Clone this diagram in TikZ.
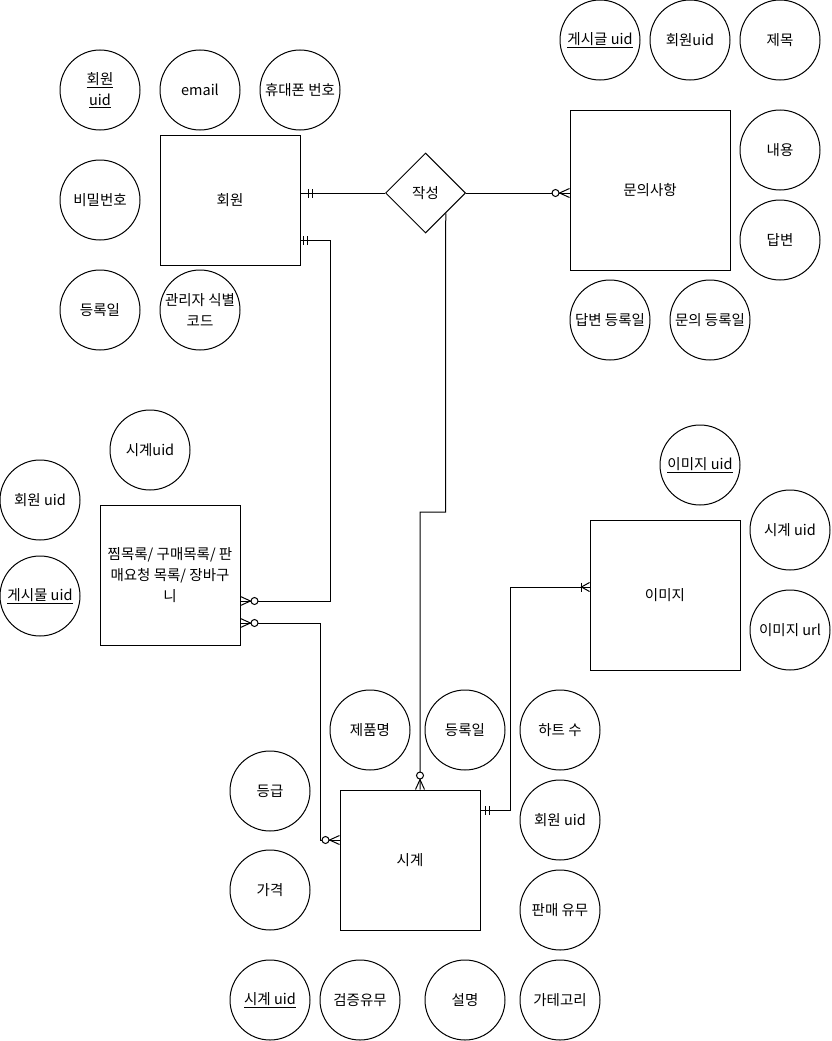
\documentclass[tikz,border=0pt]{standalone}
\usepackage{fontspec}
\setmainfont{Noto Sans CJK KR}
\usetikzlibrary{shapes.geometric}
\tikzset{
  every node/.style={font=\fontsize{14.5}{21}\selectfont},
  attr/.style={circle, draw, line width=1pt, minimum size=80pt, inner sep=-8pt, align=center},
  entity/.style={rectangle, draw, line width=1pt, inner sep=0pt, align=center},
  relbox/.style={diamond, draw, line width=1pt, minimum width=80pt, minimum height=80pt, inner sep=0pt, aspect=1},
  conn/.style={line width=1pt},
  pics/zmany/.style={code={
    \draw[line width=1pt] (0,4.5) -- (10,0) -- (0,-4.5);
    \draw[line width=1pt, fill=white] (14,0) circle[radius=3.5];
  }},
  pics/omany/.style={code={
    \draw[line width=1pt] (0,4.5) -- (8,0) -- (0,-4.5);
    \draw[line width=1pt] (8,4.5) -- (8,-4.5);
  }},
  pics/mone/.style={code={
    \draw[line width=1pt] (5,4.5) -- (5,-4.5) (9,4.5) -- (9,-4.5);
  }},
}
\begin{document}
\begin{tikzpicture}[x=1pt,y=-1pt]
\useasboundingbox (0,0) rectangle (831,1041);
% entities
\node[entity, minimum width=140pt, minimum height=130pt] (m) at (230,200) {회원};
\node[entity, minimum width=160pt, minimum height=160pt] (q) at (650,190) {문의사항};
\node[entity, minimum width=140pt, minimum height=140pt] (w) at (170,575) {찜목록/ 구매목록/ 판\\매요청 목록/ 장바구\\니};
\node[entity, minimum width=140pt, minimum height=140pt] (s) at (410,860) {시계};
\node[entity, minimum width=150pt, minimum height=150pt] (i) at (665,595) {이미지};
\node[relbox] (rel) at (425.5,193) {작성};
% attributes of 회원
\node[attr] (a1) at (100,90) {\underline{회원}\\\underline{uid}};
\node[attr] (a2) at (200,90) {email};
\node[attr] (a3) at (300,90) {휴대폰 번호};
\node[attr] (a4) at (100,200) {비밀번호};
\node[attr] (a5) at (100,310) {등록일};
\node[attr] (a6) at (200,310) {관리자 식별\\코드};
% attributes of 문의사항
\node[attr] (b1) at (600,40) {\underline{게시글 uid}};
\node[attr] (b2) at (690,40) {회원uid};
\node[attr] (b3) at (780,40) {제목};
\node[attr] (b4) at (780,150) {내용};
\node[attr] (b5) at (780,240) {답변};
\node[attr] (b6) at (610,320) {답변 등록일};
\node[attr] (b7) at (710,320) {문의 등록일};
% attributes of 찜목록
\node[attr] (c1) at (150,450) {시계uid};
\node[attr] (c2) at (40,500) {회원 uid};
\node[attr] (c3) at (40,596) {\underline{게시물 uid}};
% attributes of 이미지
\node[attr] (d1) at (700,465) {\underline{이미지 uid}};
\node[attr] (d2) at (790,530) {시계 uid};
\node[attr] (d3) at (790,630) {이미지 url};
% attributes of 시계
\node[attr] (e1) at (370,730) {제품명};
\node[attr] (e2) at (465,730) {등록일};
\node[attr] (e3) at (560,730) {하트 수};
\node[attr] (e4) at (270,791) {등급};
\node[attr] (e5) at (560,820) {회원 uid};
\node[attr] (e6) at (270,890) {가격};
\node[attr] (e7) at (560,910) {판매 유무};
\node[attr] (e8) at (270,1000) {\underline{시계 uid}};
\node[attr] (e9) at (360,1000) {검증유무};
\node[attr] (e10) at (465,1000) {설명};
\node[attr] (e11) at (560,1000) {가테고리};
% connectors
\draw[conn] ([yshift=7pt]m.east) -- (rel.west);
\draw[conn] (rel.east) -- ([yshift=-3pt]q.west);
\draw[conn] ([yshift=-40pt]m.east) -- ++(30,0) |- ([yshift=-26pt]w.east);
\coordinate (j1) at (445.5,512);
\draw[conn] (rel.south east) -- (j1) -| ([xshift=10pt]s.north);
\draw[conn] ([yshift=-48pt]w.east) -- ++(80,0) |- ([yshift=20pt]s.west);
\draw[conn] ([yshift=50pt]s.east) -- ++(30,0) |- ([yshift=8pt]i.west);
% markers
\pic[xshift=3pt] at ([yshift=7pt]m.east) {mone};
\pic[xshift=-2pt] at ([yshift=-40pt]m.east) {mone};
\pic[rotate=180] at ([yshift=-3pt]q.west) {zmany};
\pic at ([yshift=-26pt]w.east) {zmany};
\pic at ([yshift=-48pt]w.east) {zmany};
\pic[rotate=90] at ([xshift=10pt]s.north) {zmany};
\pic[rotate=180] at ([yshift=20pt]s.west) {zmany};
\pic at ([yshift=50pt]s.east) {mone};
\pic[rotate=180] at ([yshift=8pt]i.west) {omany};
\end{tikzpicture}
\end{document}
